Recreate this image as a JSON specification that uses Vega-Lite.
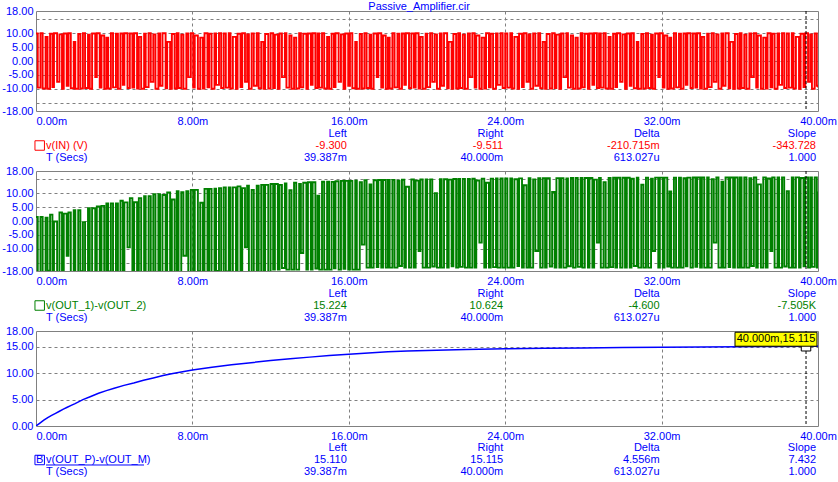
{
"$schema":"https://vega.github.io/schema/vega-lite/v6.json",
"background":"white",
"padding":{"left":1,"top":0,"right":2,"bottom":2},
"title":{"text":"Passive_Amplifier.cir","fontSize":11,"fontWeight":"normal","color":"#0000ff","font":"Liberation Sans","anchor":"middle","offset":-7},
"config":{"font":"Liberation Sans","view":{"stroke":"#808080","strokeWidth":1},
"axis":{"domain":false,"ticks":false,"tickSize":0,"grid":true,"gridColor":"#808080","gridDash":[3,3],"gridWidth":1,"labelFont":"Liberation Sans","labelFontSize":11,"labelColor":"#0000ff","labelPadding":3},
"text":{"font":"Liberation Sans","fontSize":11}},
"spacing":60,
"bounds":"flush",
"resolve":{"scale":{"x":"independent","y":"independent","color":"independent"}},
"datasets":{
"sig":[
{"t":0,"r":9.9,"g":1.45},{"t":0.09,"r":-9.6,"g":-18.5},{"t":0.23,"r":10,"g":1.45},{"t":0.34,"r":-9.9,"g":-18.5},{"t":0.49,"r":8.7,"g":1.15},{"t":0.59,"r":-10,"g":-17.9},{"t":0.72,"r":9.8,"g":2.3},{"t":0.84,"r":-9.4,"g":-18.5},{"t":0.92,"r":10,"g":-0.2},{"t":1.08,"r":-7.5,"g":-18.5},
{"t":1.2,"r":9.6,"g":3.05},{"t":1.33,"r":-10,"g":-18.5},{"t":1.42,"r":9.9,"g":2.65},{"t":1.57,"r":-8.9,"g":-12.5},{"t":1.66,"r":10,"g":3.05},{"t":1.78,"r":-9.8,"g":-18.5},{"t":1.93,"r":6.9,"g":3.85},{"t":2.01,"r":-10,"g":-18.5},{"t":2.16,"r":9.7,"g":3.85},{"t":2.27,"r":-9.9,"g":-18.1},
{"t":2.4,"r":10,"g":-0.4},{"t":2.51,"r":-9.7,"g":-18.5},{"t":2.66,"r":9.5,"g":4.6},{"t":2.75,"r":-10,"g":-18.5},{"t":2.87,"r":9.9,"g":4.6},{"t":3.03,"r":-5.8,"g":-18.5},{"t":3.11,"r":10,"g":5.25},{"t":3.26,"r":-9.6,"g":-18},{"t":3.35,"r":9.2,"g":5.45},{"t":3.49,"r":-10,"g":-18.5},
{"t":3.6,"r":8.4,"g":6.35},{"t":3.69,"r":-9.9,"g":-18.2},{"t":3.83,"r":10,"g":6.35},{"t":3.94,"r":-9.5,"g":-18.5},{"t":4.09,"r":9.8,"g":6.35},{"t":4.19,"r":-10,"g":-18.5},{"t":4.32,"r":9.9,"g":7.3},{"t":4.44,"r":-8.6,"g":-18.5},{"t":4.52,"r":10,"g":6.7},{"t":4.68,"r":-9.7,"g":-9.5},
{"t":4.8,"r":9.9,"g":8.25},{"t":4.93,"r":-9.6,"g":-18.5},{"t":5.02,"r":10,"g":6.75},{"t":5.17,"r":-9.9,"g":-18.5},{"t":5.26,"r":8.7,"g":8.25},{"t":5.38,"r":-10,"g":-18.3},{"t":5.53,"r":9.8,"g":8.95},{"t":5.61,"r":-9.4,"g":-18.5},{"t":5.76,"r":10,"g":8.95},{"t":5.87,"r":-7.5,"g":-18.5},
{"t":6,"r":9.6,"g":9.65},{"t":6.11,"r":-10,"g":-18.5},{"t":6.26,"r":9.9,"g":9.65},{"t":6.35,"r":-8.9,"g":-18.5},{"t":6.47,"r":10,"g":9.35},{"t":6.63,"r":-9.8,"g":-17.9},{"t":6.71,"r":6.9,"g":10.25},{"t":6.86,"r":-10,"g":-18.5},{"t":6.95,"r":9.7,"g":7.75},{"t":7.09,"r":-9.9,"g":-18.5},
{"t":7.2,"r":10,"g":10.75},{"t":7.29,"r":-9.7,"g":-18.5},{"t":7.43,"r":9.5,"g":10.35},{"t":7.54,"r":-10,"g":-12.5},{"t":7.69,"r":9.9,"g":10.75},{"t":7.79,"r":-5.8,"g":-18.5},{"t":7.92,"r":10,"g":11.2},{"t":8.04,"r":-9.6,"g":-18.5},{"t":8.12,"r":9.2,"g":11.2},{"t":8.28,"r":-10,"g":-18.1},
{"t":8.4,"r":8.4,"g":6.55},{"t":8.53,"r":-9.9,"g":-18.5},{"t":8.62,"r":10,"g":11.55},{"t":8.77,"r":-9.5,"g":-18.5},{"t":8.86,"r":9.8,"g":11.55},{"t":8.98,"r":-10,"g":-18.5},{"t":9.13,"r":9.9,"g":11.65},{"t":9.21,"r":-8.6,"g":-18},{"t":9.36,"r":10,"g":11.85},{"t":9.47,"r":-9.7,"g":-18.5},
{"t":9.6,"r":9.9,"g":12.1},{"t":9.71,"r":-9.6,"g":-18.2},{"t":9.86,"r":10,"g":12.1},{"t":9.95,"r":-9.9,"g":-18.5},{"t":10.07,"r":8.7,"g":12.1},{"t":10.23,"r":-10,"g":-18.5},{"t":10.31,"r":9.8,"g":12.45},{"t":10.46,"r":-9.4,"g":-18.5},{"t":10.55,"r":10,"g":11.85},{"t":10.69,"r":-7.5,"g":-9.5},
{"t":10.8,"r":9.6,"g":12.7},{"t":10.89,"r":-10,"g":-18.5},{"t":11.03,"r":9.9,"g":11.2},{"t":11.14,"r":-8.9,"g":-18.5},{"t":11.29,"r":10,"g":12.7},{"t":11.39,"r":-9.8,"g":-18.3},{"t":11.52,"r":6.9,"g":13},{"t":11.64,"r":-10,"g":-18.5},{"t":11.72,"r":9.7,"g":13},{"t":11.88,"r":-9.9,"g":-18.5},
{"t":12,"r":10,"g":13.3},{"t":12.13,"r":-9.7,"g":-17.5},{"t":12.22,"r":9.5,"g":13.3},{"t":12.37,"r":-10,"g":-17.5},{"t":12.46,"r":9.9,"g":13},{"t":12.58,"r":-5.8,"g":-16.9},{"t":12.73,"r":10,"g":13.55},{"t":12.81,"r":-9.6,"g":-17.5},{"t":12.96,"r":9.2,"g":11.05},{"t":13.07,"r":-10,"g":-17.5},
{"t":13.2,"r":8.4,"g":13.75},{"t":13.31,"r":-9.9,"g":-17.5},{"t":13.46,"r":10,"g":13.35},{"t":13.55,"r":-9.5,"g":-11.5},{"t":13.67,"r":9.8,"g":13.75},{"t":13.83,"r":-10,"g":-17.5},{"t":13.91,"r":9.9,"g":13.95},{"t":14.06,"r":-8.6,"g":-17.5},{"t":14.15,"r":10,"g":13.95},{"t":14.29,"r":-9.7,"g":-17.1},
{"t":14.4,"r":9.9,"g":9.15},{"t":14.49,"r":-9.6,"g":-17.5},{"t":14.63,"r":10,"g":14.15},{"t":14.74,"r":-9.9,"g":-17.5},{"t":14.89,"r":8.7,"g":14.15},{"t":14.99,"r":-10,"g":-17.5},{"t":15.12,"r":9.8,"g":14.1},{"t":15.24,"r":-9.4,"g":-17},{"t":15.32,"r":10,"g":14.3},{"t":15.48,"r":-7.5,"g":-17.5},
{"t":15.6,"r":9.6,"g":14.45},{"t":15.73,"r":-10,"g":-17.2},{"t":15.82,"r":9.9,"g":14.45},{"t":15.97,"r":-8.9,"g":-17.5},{"t":16.06,"r":10,"g":14.45},{"t":16.18,"r":-9.8,"g":-17.5},{"t":16.33,"r":6.9,"g":14.55},{"t":16.41,"r":-10,"g":-17.5},{"t":16.56,"r":9.7,"g":13.95},{"t":16.67,"r":-9.9,"g":-8.5},
{"t":16.8,"r":10,"g":14.65},{"t":16.91,"r":-9.7,"g":-16.8},{"t":17.06,"r":9.5,"g":13.15},{"t":17.15,"r":-10,"g":-16.8},{"t":17.27,"r":9.9,"g":14.65},{"t":17.43,"r":-5.8,"g":-16.6},{"t":17.51,"r":10,"g":14.75},{"t":17.66,"r":-9.6,"g":-16.8},{"t":17.75,"r":9.2,"g":14.75},{"t":17.89,"r":-10,"g":-16.8},
{"t":18,"r":8.4,"g":14.8},{"t":18.09,"r":-9.9,"g":-16.8},{"t":18.23,"r":10,"g":14.8},{"t":18.34,"r":-9.5,"g":-16.8},{"t":18.49,"r":9.8,"g":14.5},{"t":18.59,"r":-10,"g":-16.2},{"t":18.72,"r":9.9,"g":14.85},{"t":18.84,"r":-8.6,"g":-16.8},{"t":18.92,"r":10,"g":12.35},{"t":19.08,"r":-9.7,"g":-16.8},
{"t":19.2,"r":9.9,"g":14.95},{"t":19.33,"r":-9.6,"g":-16.8},{"t":19.42,"r":10,"g":14.55},{"t":19.57,"r":-9.9,"g":-10.8},{"t":19.66,"r":8.7,"g":14.95},{"t":19.78,"r":-10,"g":-16.8},{"t":19.93,"r":9.8,"g":15},{"t":20.01,"r":-9.4,"g":-16.8},{"t":20.16,"r":10,"g":15},{"t":20.27,"r":-7.5,"g":-16.4},
{"t":20.4,"r":9.6,"g":10.05},{"t":20.51,"r":-10,"g":-16.8},{"t":20.66,"r":9.9,"g":15.05},{"t":20.75,"r":-8.9,"g":-16.8},{"t":20.87,"r":10,"g":15.05},{"t":21.03,"r":-9.8,"g":-16.8},{"t":21.11,"r":6.9,"g":14.9},{"t":21.26,"r":-10,"g":-16.3},{"t":21.35,"r":9.7,"g":15.1},{"t":21.49,"r":-9.9,"g":-16.8},
{"t":21.6,"r":10,"g":15.15},{"t":21.69,"r":-9.7,"g":-16.5},{"t":21.83,"r":9.5,"g":15.15},{"t":21.94,"r":-10,"g":-16.8},{"t":22.09,"r":9.9,"g":15.15},{"t":22.19,"r":-5.8,"g":-16.8},{"t":22.32,"r":10,"g":15.2},{"t":22.44,"r":-9.6,"g":-16.8},{"t":22.52,"r":9.2,"g":14.6},{"t":22.68,"r":-10,"g":-7.8},
{"t":22.8,"r":8.4,"g":15.25},{"t":22.93,"r":-9.9,"g":-16.8},{"t":23.02,"r":10,"g":13.75},{"t":23.17,"r":-9.5,"g":-16.8},{"t":23.26,"r":9.8,"g":15.25},{"t":23.38,"r":-10,"g":-16.6},{"t":23.53,"r":9.9,"g":15.3},{"t":23.61,"r":-8.6,"g":-16.8},{"t":23.76,"r":10,"g":15.3},{"t":23.87,"r":-9.7,"g":-16.8},
{"t":24,"r":9.9,"g":15.35},{"t":24.11,"r":-9.6,"g":-16.8},{"t":24.26,"r":10,"g":15.35},{"t":24.35,"r":-9.9,"g":-16.8},{"t":24.47,"r":8.7,"g":15.05},{"t":24.63,"r":-10,"g":-16.2},{"t":24.71,"r":9.8,"g":15.35},{"t":24.86,"r":-9.4,"g":-16.8},{"t":24.95,"r":10,"g":12.85},{"t":25.09,"r":-7.5,"g":-16.8},
{"t":25.2,"r":9.6,"g":15.4},{"t":25.29,"r":-10,"g":-16.8},{"t":25.43,"r":9.9,"g":15},{"t":25.54,"r":-8.9,"g":-10.8},{"t":25.69,"r":10,"g":15.4},{"t":25.79,"r":-9.8,"g":-16.8},{"t":25.92,"r":6.9,"g":15.45},{"t":26.04,"r":-10,"g":-16.8},{"t":26.12,"r":9.7,"g":15.45},{"t":26.28,"r":-9.9,"g":-16.4},
{"t":26.4,"r":10,"g":10.45},{"t":26.53,"r":-9.7,"g":-16.8},{"t":26.62,"r":9.5,"g":15.45},{"t":26.77,"r":-10,"g":-16.8},{"t":26.86,"r":9.9,"g":15.45},{"t":26.98,"r":-5.8,"g":-16.8},{"t":27.13,"r":10,"g":15.3},{"t":27.21,"r":-9.6,"g":-16.3},{"t":27.36,"r":9.2,"g":15.5},{"t":27.47,"r":-10,"g":-16.8},
{"t":27.6,"r":8.4,"g":15.5},{"t":27.71,"r":-9.9,"g":-16.5},{"t":27.86,"r":10,"g":15.5},{"t":27.95,"r":-9.5,"g":-16.8},{"t":28.07,"r":9.8,"g":15.5},{"t":28.23,"r":-10,"g":-16.8},{"t":28.31,"r":9.9,"g":15.5},{"t":28.46,"r":-8.6,"g":-16.8},{"t":28.55,"r":10,"g":14.9},{"t":28.69,"r":-9.7,"g":-7.8},
{"t":28.8,"r":9.9,"g":15.5},{"t":28.89,"r":-9.6,"g":-16.8},{"t":29.03,"r":10,"g":14},{"t":29.14,"r":-9.9,"g":-16.8},{"t":29.29,"r":8.7,"g":15.5},{"t":29.39,"r":-10,"g":-16.6},{"t":29.52,"r":9.8,"g":15.55},{"t":29.64,"r":-9.4,"g":-16.8},{"t":29.72,"r":10,"g":15.55},{"t":29.88,"r":-7.5,"g":-16.8},
{"t":30,"r":9.6,"g":15.55},{"t":30.13,"r":-10,"g":-16.8},{"t":30.22,"r":9.9,"g":15.55},{"t":30.37,"r":-8.9,"g":-16.8},{"t":30.46,"r":10,"g":15.25},{"t":30.58,"r":-9.8,"g":-16.2},{"t":30.73,"r":6.9,"g":15.55},{"t":30.81,"r":-10,"g":-16.8},{"t":30.96,"r":9.7,"g":13.05},{"t":31.07,"r":-9.9,"g":-16.8},
{"t":31.2,"r":10,"g":15.6},{"t":31.31,"r":-9.7,"g":-16.8},{"t":31.46,"r":9.5,"g":15.2},{"t":31.55,"r":-10,"g":-10.8},{"t":31.67,"r":9.9,"g":15.6},{"t":31.83,"r":-5.8,"g":-16.8},{"t":31.91,"r":10,"g":15.6},{"t":32.06,"r":-9.6,"g":-16.8},{"t":32.15,"r":9.2,"g":15.6},{"t":32.29,"r":-10,"g":-16.4},
{"t":32.4,"r":8.4,"g":10.6},{"t":32.49,"r":-9.9,"g":-16.8},{"t":32.63,"r":10,"g":15.6},{"t":32.74,"r":-9.5,"g":-16.8},{"t":32.89,"r":9.8,"g":15.6},{"t":32.99,"r":-10,"g":-16.8},{"t":33.12,"r":9.9,"g":15.4},{"t":33.24,"r":-8.6,"g":-16.3},{"t":33.32,"r":10,"g":15.6},{"t":33.48,"r":-9.7,"g":-16.8},
{"t":33.6,"r":9.9,"g":15.65},{"t":33.73,"r":-9.6,"g":-16.5},{"t":33.82,"r":10,"g":15.65},{"t":33.97,"r":-9.9,"g":-16.8},{"t":34.06,"r":8.7,"g":15.65},{"t":34.18,"r":-10,"g":-16.8},{"t":34.33,"r":9.8,"g":15.65},{"t":34.41,"r":-9.4,"g":-16.8},{"t":34.56,"r":10,"g":15.05},{"t":34.67,"r":-7.5,"g":-7.8},
{"t":34.8,"r":9.6,"g":15.65},{"t":34.91,"r":-10,"g":-16.8},{"t":35.06,"r":9.9,"g":14.15},{"t":35.15,"r":-8.9,"g":-16.8},{"t":35.27,"r":10,"g":15.65},{"t":35.43,"r":-9.8,"g":-16.6},{"t":35.51,"r":6.9,"g":15.65},{"t":35.66,"r":-10,"g":-16.8},{"t":35.75,"r":9.7,"g":15.65},{"t":35.89,"r":-9.9,"g":-16.8},
{"t":36,"r":10,"g":15.7},{"t":36.09,"r":-9.7,"g":-16.8},{"t":36.23,"r":9.5,"g":15.7},{"t":36.34,"r":-10,"g":-16.8},{"t":36.49,"r":9.9,"g":15.4},{"t":36.59,"r":-5.8,"g":-16.2},{"t":36.72,"r":10,"g":15.7},{"t":36.84,"r":-9.6,"g":-16.8},{"t":36.92,"r":9.2,"g":13.2},{"t":37.08,"r":-10,"g":-16.8},
{"t":37.2,"r":8.4,"g":15.7},{"t":37.33,"r":-9.9,"g":-16.8},{"t":37.42,"r":10,"g":15.3},{"t":37.57,"r":-9.5,"g":-10.8},{"t":37.66,"r":9.8,"g":15.7},{"t":37.78,"r":-10,"g":-16.8},{"t":37.93,"r":9.9,"g":15.7},{"t":38.01,"r":-8.6,"g":-16.8},{"t":38.16,"r":10,"g":15.7},{"t":38.27,"r":-9.7,"g":-16.4},
{"t":38.4,"r":9.9,"g":10.7},{"t":38.51,"r":-9.6,"g":-16.8},{"t":38.66,"r":10,"g":15.7},{"t":38.75,"r":-9.9,"g":-16.8},{"t":38.87,"r":8.7,"g":15.7},{"t":39.03,"r":-10,"g":-16.8},{"t":39.11,"r":9.8,"g":15.5},{"t":39.26,"r":-9.4,"g":-16.3},{"t":39.35,"r":10,"g":15.7},{"t":39.49,"r":-7.5,"g":-16.8},
{"t":39.6,"r":9.6,"g":15.7},{"t":39.69,"r":-10,"g":-16.5},{"t":39.83,"r":9.9,"g":15.7},{"t":39.94,"r":-8.9,"g":-16.8},{"t":40,"r":-9.5,"g":10.6}
],
"blue":[
{"t":0,"v":0},{"t":0.2,"v":0.55},{"t":0.4,"v":1.1},{"t":0.6,"v":1.6},{"t":0.8,"v":2.0},{"t":1.0,"v":2.4},{"t":1.2,"v":2.8},{"t":1.4,"v":3.2},{"t":1.6,"v":3.55},{"t":1.8,"v":3.9},{"t":2.0,"v":4.25},{"t":2.4,"v":5.0},{"t":2.8,"v":5.6},{"t":3.2,"v":6.2},{"t":3.6,"v":6.7},{"t":4.0,"v":7.15},{"t":4.5,"v":7.7},{"t":5.0,"v":8.15},{"t":5.5,"v":8.65},{"t":6.0,"v":9.1},{"t":6.5,"v":9.55},{"t":7.0,"v":9.95},{"t":7.5,"v":10.3},{"t":8.0,"v":10.6},{"t":9.0,"v":11.15},{"t":10.0,"v":11.6},{"t":11.0,"v":12.0},{"t":12.0,"v":12.4},{"t":13.0,"v":12.75},{"t":14.0,"v":13.05},{"t":15.0,"v":13.35},{"t":16.0,"v":13.6},{"t":17.0,"v":13.85},{"t":18.0,"v":14.05},{"t":19.0,"v":14.2},{"t":20.0,"v":14.3},{"t":22.0,"v":14.5},{"t":24.0,"v":14.62},{"t":26.0,"v":14.72},{"t":28.0,"v":14.8},{"t":30.0,"v":14.87},{"t":32.0,"v":14.93},{"t":34.0,"v":14.98},{"t":36.0,"v":15.03},{"t":38.0,"v":15.08},{"t":39.387,"v":15.11},{"t":40.0,"v":15.115}
],
"cur":[{"t":39.387,"v":15.11}],
"ann":[{"t":40,"v":15.115,"s":"40.000m,15.115"}],
"txt":[
{"p":1,"t":16,"r":1,"s":"Left","k":"h"},{"p":1,"t":24,"r":1,"s":"Right","k":"h"},{"p":1,"t":32,"r":1,"s":"Delta","k":"h"},{"p":1,"t":40,"r":1,"s":"Slope","k":"h"},
{"p":1,"t":0,"r":2,"s":"v(IN) (V)","k":"v"},{"p":1,"t":16,"r":2,"s":"-9.300","k":"v"},{"p":1,"t":24,"r":2,"s":"-9.511","k":"v"},{"p":1,"t":32,"r":2,"s":"-210.715m","k":"v"},{"p":1,"t":40,"r":2,"s":"-343.728","k":"v"},
{"p":1,"t":0,"r":3,"s":"T (Secs)","k":"h"},{"p":1,"t":16,"r":3,"s":"39.387m","k":"h"},{"p":1,"t":24,"r":3,"s":"40.000m","k":"h"},{"p":1,"t":32,"r":3,"s":"613.027u","k":"h"},{"p":1,"t":40,"r":3,"s":"1.000","k":"h"},
{"p":2,"t":16,"r":1,"s":"Left","k":"h"},{"p":2,"t":24,"r":1,"s":"Right","k":"h"},{"p":2,"t":32,"r":1,"s":"Delta","k":"h"},{"p":2,"t":40,"r":1,"s":"Slope","k":"h"},
{"p":2,"t":0,"r":2,"s":"v(OUT_1)-v(OUT_2)","k":"v"},{"p":2,"t":16,"r":2,"s":"15.224","k":"v"},{"p":2,"t":24,"r":2,"s":"10.624","k":"v"},{"p":2,"t":32,"r":2,"s":"-4.600","k":"v"},{"p":2,"t":40,"r":2,"s":"-7.505K","k":"v"},
{"p":2,"t":0,"r":3,"s":"T (Secs)","k":"h"},{"p":2,"t":16,"r":3,"s":"39.387m","k":"h"},{"p":2,"t":24,"r":3,"s":"40.000m","k":"h"},{"p":2,"t":32,"r":3,"s":"613.027u","k":"h"},{"p":2,"t":40,"r":3,"s":"1.000","k":"h"},
{"p":3,"t":16,"r":1,"s":"Left","k":"h"},{"p":3,"t":24,"r":1,"s":"Right","k":"h"},{"p":3,"t":32,"r":1,"s":"Delta","k":"h"},{"p":3,"t":40,"r":1,"s":"Slope","k":"h"},
{"p":3,"t":0,"r":2,"s":"v(OUT_P)-v(OUT_M)","k":"v"},{"p":3,"t":16,"r":2,"s":"15.110","k":"v"},{"p":3,"t":24,"r":2,"s":"15.115","k":"v"},{"p":3,"t":32,"r":2,"s":"4.556m","k":"v"},{"p":3,"t":40,"r":2,"s":"7.432","k":"v"},
{"p":3,"t":0,"r":3,"s":"T (Secs)","k":"h"},{"p":3,"t":16,"r":3,"s":"39.387m","k":"h"},{"p":3,"t":24,"r":3,"s":"40.000m","k":"h"},{"p":3,"t":32,"r":3,"s":"613.027u","k":"h"},{"p":3,"t":40,"r":3,"s":"1.000","k":"h"},
{"p":3,"t":0,"r":2,"s":"B","k":"m"}
]
},
"vconcat":[
{"width":782,"height":100,"resolve":{"scale":{"y":"independent"}},
"layer":[
{"data":{"name":"sig"},"mark":{"type":"line","interpolate":"step-after","color":"#ff0000","strokeWidth":1.9,"clip":true},
"encoding":{"x":{"field":"t","type":"quantitative","scale":{"domain":[0,40],"nice":false,"zero":false},
"axis":{"title":null,"values":[0,8,16,24,32,40],"labelPadding":4,"labelExpr":"format(datum.value,'.2f')+'m'","labelAlign":{"condition":{"test":"datum.value==0","value":"left"},"value":"center"},"labelFlush":false,"labelOverlap":false,"gridOpacity":{"condition":{"test":"datum.value==0||datum.value==40","value":0},"value":1}}},
"y":{"field":"r","type":"quantitative","scale":{"domain":[-18,18],"nice":false,"zero":false},
"axis":{"title":null,"values":[-18,-15,-10,-5,0,5,10,15,18],"labelExpr":"abs(datum.value)==15 ? '' : (datum.value<0 ? '-' : '') + format(abs(datum.value),'.2f')","labelOverlap":false,"gridOpacity":{"condition":{"test":"abs(datum.value)==18","value":0},"value":1}}}}},
{"data":{"name":"cur"},"mark":{"type":"rule","color":"#000000","strokeDash":[3,2],"strokeWidth":1},"encoding":{"x":{"field":"t","type":"quantitative"}}},
{"data":{"name":"txt"},"transform":[{"filter":"datum.p==1 && datum.t>0"}],"mark":{"type":"text","align":"right","baseline":"middle","dx":-2,"fontSize":11},
"encoding":{"x":{"field":"t","type":"quantitative"},"y":{"field":"r","type":"quantitative","scale":{"domain":[-9.2083,-0.875],"reverse":true,"nice":false,"zero":false},"axis":null},"text":{"field":"s"},"color":{"field":"k","type":"nominal","scale":{"domain":["h","v","m"],"range":["#0000ff","#ff0000","#0000ff"]},"legend":null}}},
{"data":{"name":"txt"},"transform":[{"filter":"datum.p==1 && datum.t==0 && datum.k!='m'"}],"mark":{"type":"text","align":"left","baseline":"middle","dx":10,"fontSize":11},
"encoding":{"x":{"field":"t","type":"quantitative"},"y":{"field":"r","type":"quantitative","scale":{"domain":[-9.2083,-0.875],"reverse":true,"nice":false,"zero":false},"axis":null},"text":{"field":"s"},"color":{"field":"k","type":"nominal","scale":{"domain":["h","v","m"],"range":["#0000ff","#ff0000","#0000ff"]},"legend":null}}},
{"data":{"name":"txt"},"transform":[{"filter":"datum.p==1 && datum.t==0 && datum.k=='v'"}],"mark":{"type":"point","shape":"square","size":90,"filled":false,"color":"#ff0000","strokeWidth":1,"opacity":1,"xOffset":3.7},
"encoding":{"x":{"field":"t","type":"quantitative"},"y":{"field":"r","type":"quantitative","scale":{"domain":[-9.2083,-0.875],"reverse":true,"nice":false,"zero":false},"axis":null}}}
]},
{"width":782,"height":100,"resolve":{"scale":{"y":"independent"}},
"layer":[
{"data":{"name":"sig"},"mark":{"type":"line","interpolate":"step-after","color":"#008000","strokeWidth":1.9,"clip":true},
"encoding":{"x":{"field":"t","type":"quantitative","scale":{"domain":[0,40],"nice":false,"zero":false},
"axis":{"title":null,"values":[0,8,16,24,32,40],"labelPadding":4,"labelExpr":"format(datum.value,'.2f')+'m'","labelAlign":{"condition":{"test":"datum.value==0","value":"left"},"value":"center"},"labelFlush":false,"labelOverlap":false,"gridOpacity":{"condition":{"test":"datum.value==0||datum.value==40","value":0},"value":1}}},
"y":{"field":"g","type":"quantitative","scale":{"domain":[-18,18],"nice":false,"zero":false},
"axis":{"title":null,"values":[-18,-15,-10,-5,0,5,10,15,18],"labelExpr":"abs(datum.value)==15 ? '' : (datum.value<0 ? '-' : '') + format(abs(datum.value),'.2f')","labelOverlap":false,"gridOpacity":{"condition":{"test":"abs(datum.value)==18","value":0},"value":1}}}}},
{"data":{"name":"cur"},"mark":{"type":"rule","color":"#000000","strokeDash":[3,2],"strokeWidth":1},"encoding":{"x":{"field":"t","type":"quantitative"}}},
{"data":{"name":"txt"},"transform":[{"filter":"datum.p==2 && datum.t>0"}],"mark":{"type":"text","align":"right","baseline":"middle","dx":-2,"fontSize":11},
"encoding":{"x":{"field":"t","type":"quantitative"},"y":{"field":"r","type":"quantitative","scale":{"domain":[-9.2083,-0.875],"reverse":true,"nice":false,"zero":false},"axis":null},"text":{"field":"s"},"color":{"field":"k","type":"nominal","scale":{"domain":["h","v","m"],"range":["#0000ff","#008000","#0000ff"]},"legend":null}}},
{"data":{"name":"txt"},"transform":[{"filter":"datum.p==2 && datum.t==0 && datum.k!='m'"}],"mark":{"type":"text","align":"left","baseline":"middle","dx":10,"fontSize":11},
"encoding":{"x":{"field":"t","type":"quantitative"},"y":{"field":"r","type":"quantitative","scale":{"domain":[-9.2083,-0.875],"reverse":true,"nice":false,"zero":false},"axis":null},"text":{"field":"s"},"color":{"field":"k","type":"nominal","scale":{"domain":["h","v","m"],"range":["#0000ff","#008000","#0000ff"]},"legend":null}}},
{"data":{"name":"txt"},"transform":[{"filter":"datum.p==2 && datum.t==0 && datum.k=='v'"}],"mark":{"type":"point","shape":"square","size":90,"filled":false,"color":"#008000","strokeWidth":1,"opacity":1,"xOffset":3.7},
"encoding":{"x":{"field":"t","type":"quantitative"},"y":{"field":"r","type":"quantitative","scale":{"domain":[-9.2083,-0.875],"reverse":true,"nice":false,"zero":false},"axis":null}}}
]},
{"width":782,"height":95,"resolve":{"scale":{"y":"independent"}},
"layer":[
{"data":{"name":"blue"},"mark":{"type":"line","color":"#0000ff","strokeWidth":1.5,"clip":true},
"encoding":{"x":{"field":"t","type":"quantitative","scale":{"domain":[0,40],"nice":false,"zero":false},
"axis":{"title":null,"values":[0,8,16,24,32,40],"labelPadding":4,"labelExpr":"format(datum.value,'.2f')+'m'","labelAlign":{"condition":{"test":"datum.value==0","value":"left"},"value":"center"},"labelFlush":false,"labelOverlap":false,"gridOpacity":{"condition":{"test":"datum.value==0||datum.value==40","value":0},"value":1}}},
"y":{"field":"v","type":"quantitative","scale":{"domain":[0,18],"nice":false,"zero":false},
"axis":{"title":null,"values":[0,5,10,15,18],"labelExpr":"format(datum.value,'.2f')","labelOverlap":false,"gridOpacity":{"condition":{"test":"datum.value==0||datum.value==18","value":0},"value":1}}}}},
{"data":{"name":"cur"},"mark":{"type":"rule","color":"#000000","strokeDash":[3,2],"strokeWidth":1},"encoding":{"x":{"field":"t","type":"quantitative"}}},
{"data":{"name":"cur"},"mark":{"type":"point","shape":"square","size":90,"filled":true,"fill":"#ffffff","stroke":"#000000","strokeWidth":1,"opacity":1},
"encoding":{"x":{"field":"t","type":"quantitative"},"y":{"field":"v","type":"quantitative","scale":{"domain":[0,18],"nice":false,"zero":false},"axis":null}}},
{"data":{"name":"ann"},"mark":{"type":"rect","fill":"#ffff00","stroke":"#000000","strokeWidth":1,"xOffset":-83,"x2Offset":-1,"yOffset":-14,"y2Offset":0},
"encoding":{"x":{"field":"t","type":"quantitative"},"x2":{"field":"t"},"y":{"field":"v","type":"quantitative","scale":{"domain":[0,18],"nice":false,"zero":false},"axis":null},"y2":{"field":"v"}}},
{"data":{"name":"ann"},"mark":{"type":"text","align":"center","baseline":"middle","dx":-42,"dy":-7,"fontSize":11,"color":"#000000"},
"encoding":{"x":{"field":"t","type":"quantitative"},"y":{"field":"v","type":"quantitative","scale":{"domain":[0,18],"nice":false,"zero":false},"axis":null},"text":{"field":"s"}}},
{"data":{"name":"txt"},"transform":[{"filter":"datum.p==3 && datum.t>0"}],"mark":{"type":"text","align":"right","baseline":"middle","dx":-2,"fontSize":11},
"encoding":{"x":{"field":"t","type":"quantitative"},"y":{"field":"r","type":"quantitative","scale":{"domain":[-8.75,-0.8333],"reverse":true,"nice":false,"zero":false},"axis":null},"text":{"field":"s"},"color":{"field":"k","type":"nominal","scale":{"domain":["h","v","m"],"range":["#0000ff","#0000ff","#0000ff"]},"legend":null}}},
{"data":{"name":"txt"},"transform":[{"filter":"datum.p==3 && datum.t==0 && datum.k!='m'"}],"mark":{"type":"text","align":"left","baseline":"middle","dx":10,"fontSize":11},
"encoding":{"x":{"field":"t","type":"quantitative"},"y":{"field":"r","type":"quantitative","scale":{"domain":[-8.75,-0.8333],"reverse":true,"nice":false,"zero":false},"axis":null},"text":{"field":"s"},"color":{"field":"k","type":"nominal","scale":{"domain":["h","v","m"],"range":["#0000ff","#0000ff","#0000ff"]},"legend":null}}},
{"data":{"name":"txt"},"transform":[{"filter":"datum.p==3 && datum.t==0 && datum.k=='v'"}],"mark":{"type":"rule","color":"#0000ff","strokeWidth":1,"xOffset":10,"x2Offset":108,"yOffset":5},
"encoding":{"x":{"field":"t","type":"quantitative"},"x2":{"field":"t"},"y":{"field":"r","type":"quantitative","scale":{"domain":[-8.75,-0.8333],"reverse":true,"nice":false,"zero":false},"axis":null}}},
{"data":{"name":"txt"},"transform":[{"filter":"datum.p==3 && datum.k=='m'"}],"mark":{"type":"text","align":"center","baseline":"middle","dx":3.7,"fontSize":11,"color":"#0000ff"},
"encoding":{"x":{"field":"t","type":"quantitative"},"y":{"field":"r","type":"quantitative","scale":{"domain":[-8.75,-0.8333],"reverse":true,"nice":false,"zero":false},"axis":null},"text":{"field":"s"}}},
{"data":{"name":"txt"},"transform":[{"filter":"datum.p==3 && datum.t==0 && datum.k=='v'"}],"mark":{"type":"point","shape":"square","size":90,"filled":false,"color":"#0000ff","strokeWidth":1,"opacity":1,"xOffset":3.7},
"encoding":{"x":{"field":"t","type":"quantitative"},"y":{"field":"r","type":"quantitative","scale":{"domain":[-8.75,-0.8333],"reverse":true,"nice":false,"zero":false},"axis":null}}}
]}
]
}
